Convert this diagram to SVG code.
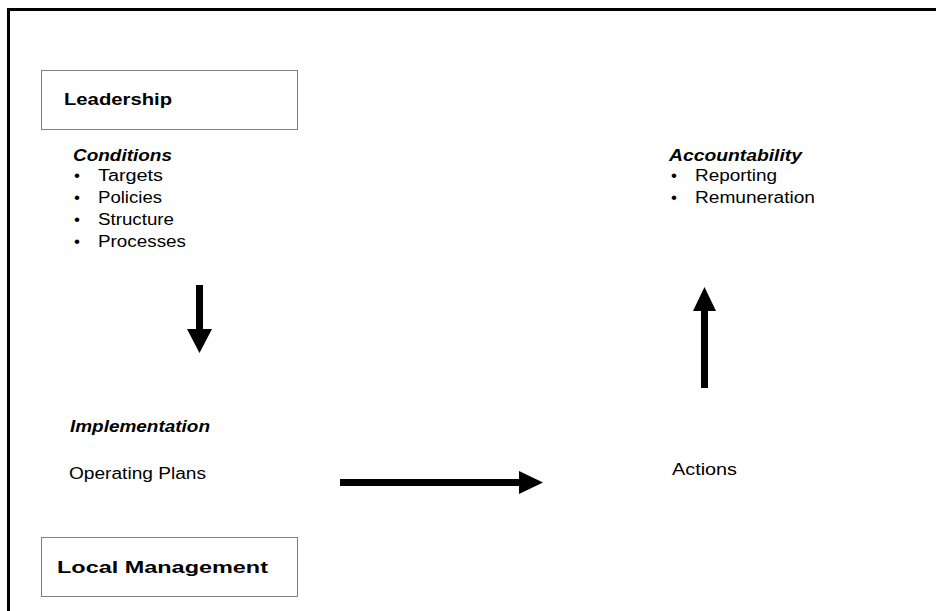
<svg xmlns="http://www.w3.org/2000/svg" width="936" height="611" viewBox="0 0 936 611">
  <style>
    text { font-family: "Liberation Sans", Arial, sans-serif; fill: #000; }
    .title { font-size: 17px; font-weight: bold; }
    .head { font-size: 16px; font-weight: bold; font-style: italic; }
    .item { font-size: 16px; }
    .bullet { font-size: 17px; }
    .box { fill: #fff; stroke: #808080; stroke-width: 1; }
    .frame { fill: none; stroke: #000; stroke-width: 3; }
    .arrow { fill: #000; stroke: none; }
  </style>

  <!-- page frame (open on the right and bottom) -->
  <path class="frame" d="M8.5,611 V9.5 H936"/>

  <g id="leadership">
    <rect class="box" x="41.5" y="70.5" width="256" height="59"/>
    <text class="title" x="64" y="105" textLength="108" lengthAdjust="spacingAndGlyphs">Leadership</text>
  </g>

  <g id="conditions">
    <text class="head" x="73" y="161" textLength="99" lengthAdjust="spacingAndGlyphs">Conditions</text>
    <text class="bullet" x="74" y="181">•</text>
    <text class="item" x="98" y="181" textLength="65" lengthAdjust="spacingAndGlyphs">Targets</text>
    <text class="bullet" x="74" y="203">•</text>
    <text class="item" x="98" y="203" textLength="64" lengthAdjust="spacingAndGlyphs">Policies</text>
    <text class="bullet" x="74" y="225">•</text>
    <text class="item" x="98" y="225" textLength="76" lengthAdjust="spacingAndGlyphs">Structure</text>
    <text class="bullet" x="74" y="247">•</text>
    <text class="item" x="98" y="247" textLength="88" lengthAdjust="spacingAndGlyphs">Processes</text>
  </g>

  <g id="implementation">
    <text class="head" x="70" y="432" textLength="140" lengthAdjust="spacingAndGlyphs">Implementation</text>
    <text class="item" x="69" y="479" textLength="137" lengthAdjust="spacingAndGlyphs">Operating Plans</text>
  </g>

  <g id="local-management">
    <rect class="box" x="41.5" y="537.5" width="256" height="59"/>
    <text class="title" x="57" y="573" textLength="211" lengthAdjust="spacingAndGlyphs">Local Management</text>
  </g>

  <g id="actions">
    <text class="item" x="672" y="475" textLength="65" lengthAdjust="spacingAndGlyphs">Actions</text>
  </g>

  <g id="accountability">
    <text class="head" x="669" y="161" textLength="133" lengthAdjust="spacingAndGlyphs">Accountability</text>
    <text class="bullet" x="671" y="181">•</text>
    <text class="item" x="695" y="181" textLength="82" lengthAdjust="spacingAndGlyphs">Reporting</text>
    <text class="bullet" x="671" y="203">•</text>
    <text class="item" x="695" y="203" textLength="120" lengthAdjust="spacingAndGlyphs">Remuneration</text>
  </g>

  <g id="connectors">
    <!-- conditions down to implementation -->
    <path class="arrow" d="M196,285 H203 V329 H212 L199.5,353 L187,329 H196 Z"/>
    <!-- operating plans across to actions -->
    <path class="arrow" d="M340,479 H519 V471 L543,482.5 L519,494 V486 H340 Z"/>
    <!-- actions up to accountability -->
    <path class="arrow" d="M701,388 V311 H693 L704.5,287 L716,311 H708 V388 Z"/>
  </g>
</svg>
